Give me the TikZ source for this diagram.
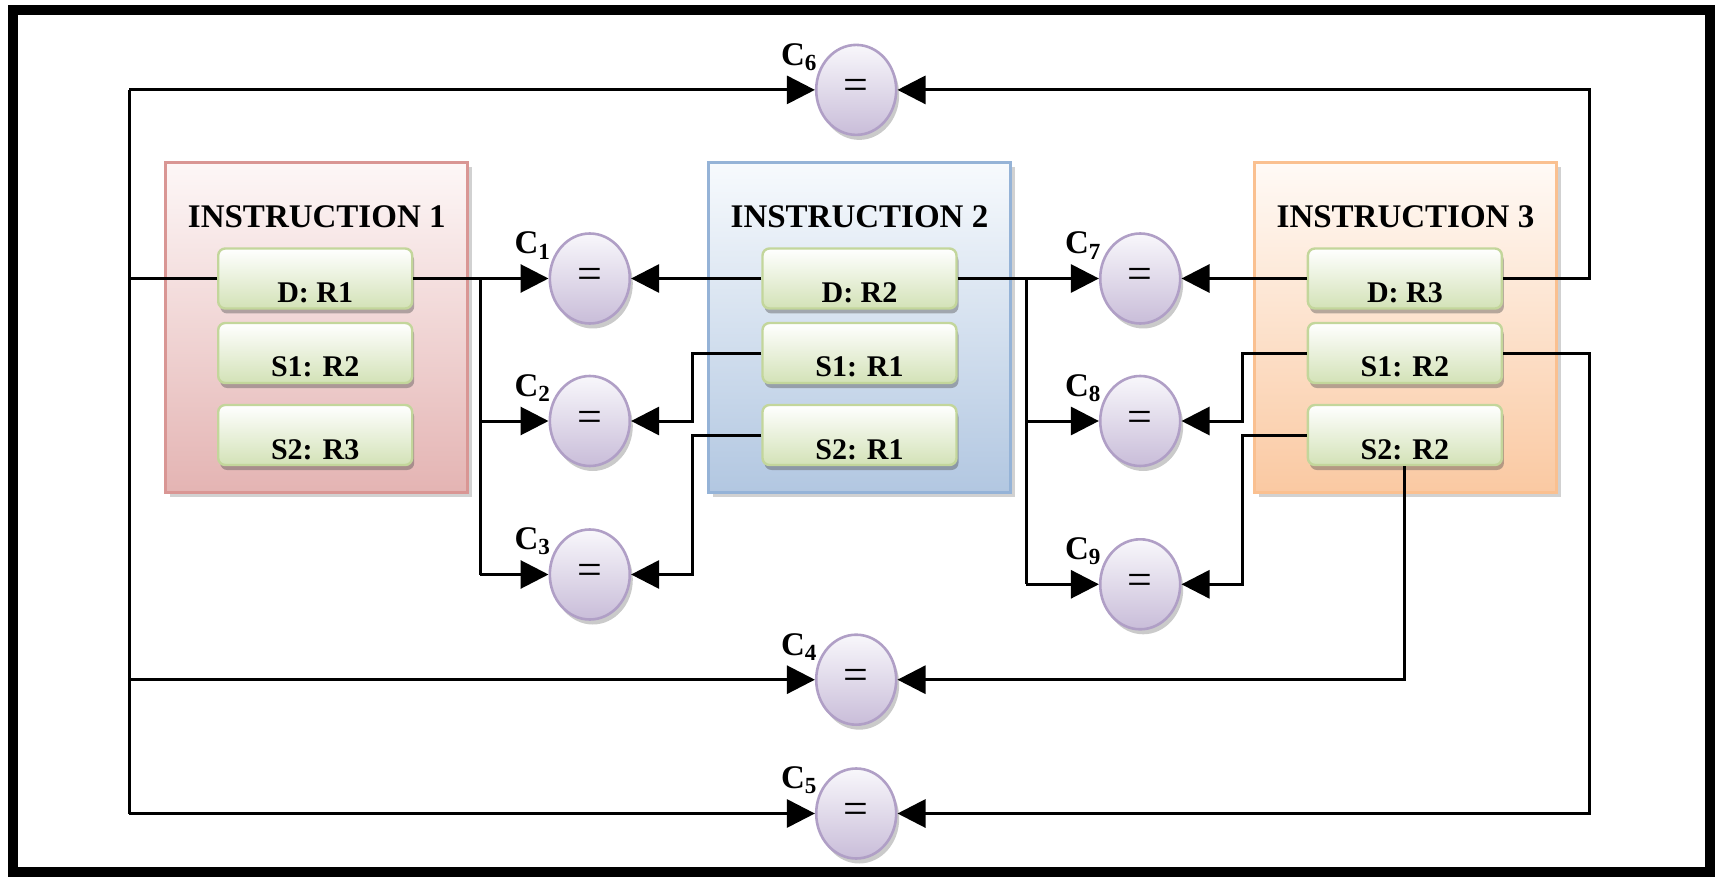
\documentclass[tikz,border=0pt]{standalone}
\usepackage{fontspec}
\setmainfont{Liberation Serif}
\usetikzlibrary{arrows.meta,shadows,shapes.geometric}

% palette
\definecolor{redtop}{HTML}{FDF7F7}
\definecolor{redbot}{HTML}{E4B4B3}
\definecolor{redline}{HTML}{D99694}
\definecolor{bluetop}{HTML}{F7FAFD}
\definecolor{bluebot}{HTML}{B2C7E1}
\definecolor{blueline}{HTML}{95B3D7}
\definecolor{orgtop}{HTML}{FFFAF6}
\definecolor{orgbot}{HTML}{FAC9A2}
\definecolor{orgline}{HTML}{FAC090}
\definecolor{regtop}{HTML}{FFFFFF}
\definecolor{regbot}{HTML}{D3E2B7}
\definecolor{regline}{HTML}{C3D69B}
\definecolor{cmptop}{HTML}{F8F7FB}
\definecolor{cmpbot}{HTML}{C9BDD9}
\definecolor{cmpline}{HTML}{B09FC6}

\newcommand{\regtext}[1]{\raisebox{-12pt}[0pt][0pt]{#1}}

\tikzset{
  instbox/.style={draw=#1line, line width=1.5pt, top color=#1top, bottom color=#1bot,
    minimum width=151pt, minimum height=165pt, inner sep=0pt,
    drop shadow={shadow xshift=2pt, shadow yshift=-2.5pt, opacity=0.3, fill=black!60}},
  insttitle/.style={font=\bfseries\fontsize{16.5}{19}\selectfont, inner sep=0pt},
  regbox/.style={draw=regline, line width=1.2pt, rounded corners=3.5pt,
    top color=regtop, bottom color=regbot,
    minimum width=97pt, minimum height=30pt, inner sep=0pt,
    font=\bfseries\fontsize{15}{18}\selectfont,
    drop shadow={shadow xshift=1pt, shadow yshift=-2.5pt, opacity=0.4, fill=black!70}},
  cmp/.style={ellipse, draw=cmpline, line width=1.3pt, top color=cmptop, bottom color=cmpbot,
    minimum width=40pt, minimum height=45pt, inner sep=0pt,
    font=\fontsize{22}{24}\selectfont,
    drop shadow={shadow xshift=1.5pt, shadow yshift=-2.5pt, opacity=0.35, fill=black!60}},
  clab/.style={font=\bfseries\fontsize{16.5}{19}\selectfont, inner sep=0pt},
  wire/.style={line width=1.5pt, line join=miter},
  arr/.style={wire, -{Triangle[length=14pt,width=14pt]}},
}

\begin{document}
\begin{tikzpicture}[x=0.5pt, y=-0.5pt]
\useasboundingbox (0,0) rectangle (1719,877);

% outer frame
\draw[line width=5pt] (13,10) rectangle (1710,872);

% instruction panels
\node[instbox=red]  (i1) at (316.8,327.2) {};
\node[instbox=blue] (i2) at (859.5,327.2) {};
\node[instbox=org]  (i3) at (1405.5,327.2) {};

\node[insttitle] (t1) at (316.8,217) {INSTRUCTION 1};
\node[insttitle] (t2) at (859.5,217) {INSTRUCTION 2};
\node[insttitle] (t3) at (1405.5,217) {INSTRUCTION 3};

% register fields
\node[regbox] (r11) at (315.2,278.5) {\regtext{D: R1}};
\node[regbox] (r12) at (315.2,353)   {\regtext{S1: R2}};
\node[regbox] (r13) at (315.2,435)   {\regtext{S2: R3}};
\node[regbox] (r21) at (859.5,278.5) {\regtext{D: R2}};
\node[regbox] (r22) at (859.5,353)   {\regtext{S1: R1}};
\node[regbox] (r23) at (859.5,435)   {\regtext{S2: R1}};
\node[regbox] (r31) at (1404.9,278.5) {\regtext{D: R3}};
\node[regbox] (r32) at (1404.9,353)   {\regtext{S1: R2}};
\node[regbox] (r33) at (1404.9,435)   {\regtext{S2: R2}};

% comparators
\node[cmp] (c1) at (589.8,278.5) {=};
\node[cmp] (c2) at (589.8,421.0) {=};
\node[cmp] (c3) at (589.8,574.5) {=};
\node[cmp] (c4) at (856.2,679.7) {=};
\node[cmp] (c5) at (856.2,813.5) {=};
\node[cmp] (c6) at (856.2,89.9)  {=};
\node[cmp] (c7) at (1140.2,278.5) {=};
\node[cmp] (c8) at (1140.2,421.0) {=};
\node[cmp] (c9) at (1140.2,584.3) {=};

\foreach \i in {1,...,9}
  \node[clab] (l\i) at ([shift={(-57,-33)}]c\i.center) {C\textsubscript{\i}};

% bus columns
\coordinate (xL)  at (129.4,0);
\coordinate (xA)  at (480.2,0);
\coordinate (xB)  at (692.9,0);
\coordinate (xC)  at (1026.1,0);
\coordinate (xD)  at (1242.1,0);
\coordinate (xR)  at (1589.6,0);

% destination of instruction 1
\draw[wire] (c6.west -| xL) -- (c5.west -| xL);
\draw[wire] (r11.west) -- (r11.west -| xL);
\draw[arr] (c6.west -| xL) -- (c6.west);
\draw[arr] (c4.west -| xL) -- (c4.west);
\draw[arr] (c5.west -| xL) -- (c5.west);
\draw[arr] (r11.east) -- (c1.west);
\draw[wire] (r11.east -| xA) -- (c3.west -| xA);
\draw[arr] (c2.west -| xA) -- (c2.west);
\draw[arr] (c3.west -| xA) -- (c3.west);

% instruction 2
\draw[arr] (r21.west) -- (c1.east);
\draw[arr] (r22.west) -- (r22.west -| xB) -- (c2.east -| xB) -- (c2.east);
\draw[arr] (r23.west) -- (r23.west -| xB) -- (c3.east -| xB) -- (c3.east);
\draw[arr] (r21.east) -- (c7.west);
\draw[wire] (r21.east -| xC) -- (c9.west -| xC);
\draw[arr] (c8.west -| xC) -- (c8.west);
\draw[arr] (c9.west -| xC) -- (c9.west);

% instruction 3
\draw[arr] (r31.west) -- (c7.east);
\draw[arr] (r31.east) -- (r31.east -| xR) -- (c6.east -| xR) -- (c6.east);
\draw[arr] (r32.west) -- (r32.west -| xD) -- (c8.east -| xD) -- (c8.east);
\draw[arr] (r33.west) -- (r33.west -| xD) -- (c9.east -| xD) -- (c9.east);
\draw[arr] (r32.east) -- (r32.east -| xR) -- (c5.east -| xR) -- (c5.east);
\draw[arr] (r33.south) -- (r33.south |- c4.east) -- (c4.east);
\end{tikzpicture}
\end{document}
